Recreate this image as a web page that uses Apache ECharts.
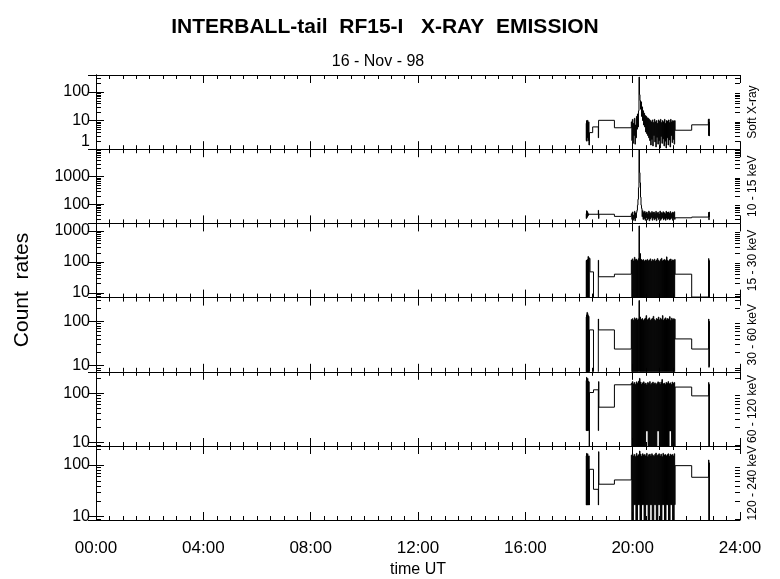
<!DOCTYPE html>
<html><head><meta charset="utf-8">
<script src="https://cdn.jsdelivr.net/npm/echarts@6/dist/echarts.min.js"></script>
<style>html,body{margin:0;padding:0;background:#fff}#c{width:780px;height:579px}</style>
</head><body><div id="c"></div>
<script>
// ---------- DATA ----------
const titleText = 'INTERBALL-tail  RF15-I   X-RAY  EMISSION';
const dateText = '16 - Nov - 98';
const panelNames = ['Soft X-ray', '10 - 15 keV', '15 - 30 keV', '30 - 60 keV', '60 - 120 keV', '120 - 240 keV'];
const xTickLabels = ['00:00', '04:00', '08:00', '12:00', '16:00', '20:00', '24:00'];
const yMin = [1, 20, 7, 7.2, 8.4, 8.6];
const yMax = [390, 10000, 1750, 345, 272, 233];
const yTickLabels = [[1, 10, 100], [100, 1000], [10, 100, 1000], [10, 100], [10, 100], [10, 100]];

// dense sampled interval (hours UT)
const blockStart = 19.95;
const blockStep = 0.019;

// Soft X-ray
const p1Pre = [[18.26,8],[18.27,2],[18.28,10],[18.29,1.9],[18.30,9],[18.31,2.5],[18.32,10.2],[18.33,3],[18.34,8],[18.35,2],[18.36,9],[18.37,1.4],[18.39,3.8],[18.51,6.0],[18.72,2.5],[18.73,10.2],[19.32,5.6]];
const p1Block = [9,2,11,1.6,8,3,12,1.5,7,2.5,
 14,5,17,6,22,330,80,50,25,45,
 14,30,10,22,7,18,6,15,4,14,
 3.5,12.5,3,12,2.5,11,2,10,1.4,9,
 2.2,10.5,1.3,8.5,3,11,1.8,9,1.2,10,
 2.6,8,1.5,10.5,2,9.5,1.1,11,2.8,8.5,
 1.6,10,2.3,9,1.3,11,1.9,8,1.1,10,
 2.5,9.5,1.4,10.5,2.1,8.5,1.2,11,3,9,
 1.7,10,2.2,9.5,1.5,10];
const p1Post = [[21.58,4.6],[22.20,7.1],[22.82,11],[22.83,3],[22.84,11.4],[22.85,2.9],[22.86,9]];

// 10 - 15 keV
const p2Pre = [[18.26,45],[18.27,30],[18.28,58],[18.29,32],[18.30,55],[18.31,35],[18.32,50],[18.33,38],[18.34,45],[18.35,40],[18.36,43],[18.72,60],[18.73,30],[18.74,43],[19.32,36]];
const p2Block = [45,28,52,26,40,30,55,25,48,32,
 50,60,92,150,400,9500,1400,600,180,92,
 70,35,58,28,50,30,55,26,48,32,
 52,27,45,30,56,25,50,29,47,33,
 54,26,49,31,52,27,46,30,55,25,
 48,33,51,28,44,30,56,26,50,29,
 47,32,53,27,49,30,45,26,55,31,
 50,28,52,30,47,27,54,29,46,32,
 51,26,49,30,53,28];
const p2Post = [[21.58,32],[22.20,34],[22.83,50],[22.84,27],[22.85,52],[22.86,34]];

// 15 - 30 keV
const p3Pre = [[18.26,110],[18.27,1],[18.28,115],[18.29,1],[18.30,105],[18.31,1],[18.32,120],[18.33,1],[18.34,150],[18.35,1],[18.36,140],[18.37,1],[18.38,130],[18.41,47.5],[18.54,1],[18.72,113],[18.73,33],[19.32,40]];
const p3Block = [115,1,125,1,108,1,140,1,118,1,
 122,1,110,1,130,1450,1,185,1,120,
 1,112,1,118,1,105,1,115,1,110,
 1,120,1,108,1,114,1,125,1,105,
 1,118,1,110,1,122,1,106,1,115,
 1,128,1,112,1,104,1,118,1,130,
 1,108,1,115,1,120,1,110,1,145,
 1,112,1,106,1,118,1,124,1,108,
 1,116,1,112,1,120];
const p3Post = [[21.58,40],[22.20,7.3],[22.83,128],[22.84,1],[22.85,110],[22.86,1]];

// 30 - 60 keV
const p4Pre = [[18.26,125],[18.27,1],[18.28,140],[18.29,1],[18.30,160],[18.31,1],[18.32,150],[18.33,1],[18.34,135],[18.35,1],[18.36,130],[18.37,1],[18.39,64],[18.54,1],[18.72,113],[18.73,64],[19.32,23.6]];
const p4Block = [110,1,115,1,106,1,120,1,112,1,
 118,1,108,1,114,296,1,125,1,110,
 1,116,1,105,1,112,1,118,1,135,
 1,108,1,114,1,120,1,106,1,112,
 1,117,1,130,1,110,1,104,1,116,
 1,112,1,125,1,108,1,118,1,110,
 1,135,1,106,1,114,1,120,1,108,
 1,116,1,112,1,128,1,105,1,118,
 1,110,1,115,1,112];
const p4Post = [[21.58,40],[22.20,23.6],[22.83,113],[22.84,9.1],[22.85,100],[22.86,9.5]];

// 60 - 120 keV
const p5Pre = [[18.26,180],[18.27,17.3],[18.28,210],[18.29,17.3],[18.30,190],[18.31,17.3],[18.32,200],[18.33,17.3],[18.34,175],[18.35,17.5],[18.36,170],[18.38,1],[18.39,103],[18.54,117],[18.72,17.3],[18.73,172],[18.74,51.8],[19.32,148]];
const p5Block = [160,1,172,1,155,1,165,1,150,1,
 170,1,158,1,175,1,200,1,168,1,
 152,1,162,1,170,1,155,1,160,17,
 148,17,165,1,158,1,172,1,150,1,
 160,1,168,1,155,1,162,1,150,1,
 158,17,170,17,165,1,152,1,168,1,
 190,1,155,1,160,1,150,1,165,1,
 158,1,172,1,155,17,162,17,150,1,
 168,1,158,1,165,1];
const p5Post = [[21.58,133],[22.20,88],[22.83,165],[22.84,1],[22.85,150],[22.86,1]];

// 120 - 240 keV
const p6Pre = [[18.26,150],[18.27,16.8],[18.28,168],[18.29,16.8],[18.30,160],[18.31,16.8],[18.32,165],[18.33,16.8],[18.34,145],[18.35,16.8],[18.36,150],[18.38,16.8],[18.39,82.5],[18.54,33.8],[18.72,16.8],[18.73,181],[18.74,42.4],[19.32,51.3]];
const p6Block = [155,1,165,1,150,17,160,17,145,1,
 168,1,150,17,158,17,186,1,162,1,
 148,17,165,17,155,1,160,1,150,17,
 168,17,145,1,158,1,162,17,150,17,
 165,1,155,1,148,17,160,17,170,1,
 152,1,158,17,165,17,150,1,162,1,
 145,17,168,17,155,1,160,1,150,17,
 158,17,165,1,148,1,162,17,155,17,
 160,1,150,1,165,17];
const p6Post = [[21.58,97],[22.20,57.8],[22.83,125],[22.84,1],[22.85,110],[22.86,1]];

const panelPre = [p1Pre, p2Pre, p3Pre, p4Pre, p5Pre, p6Pre];
const panelBlock = [p1Block, p2Block, p3Block, p4Block, p5Block, p6Block];
const panelPost = [p1Post, p2Post, p3Post, p4Post, p5Post, p6Post];

// ---------- LAYOUT ----------
const FONT = '"Liberation Sans", Arial, Helvetica, sans-serif';
const gridLeft = 96, gridRightPx = 740, gridTop = 75, panelH = 74.2;

const chart = echarts.init(document.getElementById('c'), null, {renderer: 'canvas'});

// histogram-style (step) records: [t, tNext, previous value, value]
function buildStepData(p) {
  const pts = panelPre[p].slice();
  panelBlock[p].forEach((v, i) => pts.push([blockStart + i * blockStep, v]));
  panelPost[p].forEach(q => pts.push(q));
  return pts.map((q, i) => [
    q[0],
    i < pts.length - 1 ? pts[i + 1][0] : q[0],
    i > 0 ? pts[i - 1][1] : q[1],
    q[1]
  ]);
}

function renderStep(params, api) {
  const t0 = api.value(0), t1 = api.value(1), v0 = api.value(2), v1 = api.value(3);
  const a = api.coord([t0, v0]), b = api.coord([t0, v1]), c = api.coord([t1, v1]);
  return {
    type: 'polyline', silent: true,
    shape: {points: [a, b, c]},
    style: {stroke: '#000', lineWidth: 1, fill: null}
  };
}

const grids = [], xAxes = [], yAxes = [], series = [];
for (let p = 0; p < 6; p++) {
  grids.push({left: gridLeft, right: 780 - gridRightPx, top: gridTop + p * panelH, height: panelH, containLabel: false});
  const xBase = {
    type: 'value', gridIndex: p, min: 0, max: 24, interval: 4,
    axisLine: {show: true, lineStyle: {color: '#000', width: 1}},
    axisTick: {show: true, inside: true, length: 8, lineStyle: {color: '#000'}},
    minorTick: {show: true, splitNumber: 8, length: 4, lineStyle: {color: '#000'}},
    splitLine: {show: false}, minorSplitLine: {show: false}
  };
  xAxes.push(Object.assign({}, xBase, {
    position: 'bottom',
    axisLabel: {show: p === 5, color: '#000', fontFamily: FONT, fontSize: 17, margin: 20,
      formatter: v => xTickLabels[Math.round(v / 4)]},
    name: p === 5 ? 'time UT' : '', nameLocation: 'middle', nameGap: 42,
    nameTextStyle: {color: '#000', fontFamily: FONT, fontSize: 16}
  }));
  xAxes.push(Object.assign({}, xBase, {position: 'top', axisLabel: {show: false}}));
  const yBase = {
    type: 'log', logBase: 10, gridIndex: p, min: yMin[p], max: yMax[p],
    axisLine: {show: true, lineStyle: {color: '#000', width: 1}},
    axisTick: {show: true, inside: true, length: 8, lineStyle: {color: '#000'}},
    splitLine: {show: false}
  };
  const ticks = yTickLabels[p];
  yAxes.push(Object.assign({}, yBase, {
    position: 'left',
    axisLabel: {show: true, color: '#000', fontFamily: FONT, fontSize: 16, margin: 6,
      showMinLabel: true, showMaxLabel: true,
      verticalAlignMinLabel: p === 0 ? 'bottom' : null,
      formatter: v => {
        const r = Math.round(v);
        return ticks.some(t => Math.abs(t - v) / t < 1e-4) ? String(r) : '';
      }}
  }));
  yAxes.push(Object.assign({}, yBase, {position: 'right', axisLabel: {show: false}}));
  series.push({
    type: 'custom', xAxisIndex: 2 * p, yAxisIndex: 2 * p,
    data: buildStepData(p), encode: {x: [0, 1], y: [2, 3]},
    renderItem: renderStep, clip: true, silent: true, animation: false
  });
}

const graphics = [
  {type: 'text', x: 385, y: 27, style: {text: titleText, fill: '#000', font: 'bold 21px ' + FONT, textAlign: 'center', textVerticalAlign: 'middle'}},
  {type: 'text', x: 378, y: 62, style: {text: dateText, fill: '#000', font: '16px ' + FONT, textAlign: 'center', textVerticalAlign: 'middle'}},
  {type: 'text', x: 22, y: 290, rotation: Math.PI / 2, style: {text: 'Count  rates', fill: '#000', font: '21px ' + FONT, textAlign: 'center', textVerticalAlign: 'middle'}}
];
panelNames.forEach((n, p) => {
  graphics.push({type: 'text', x: 753, y: gridTop + (p + 0.5) * panelH, rotation: Math.PI / 2,
    style: {text: n, fill: '#000', font: '12px ' + FONT, textAlign: 'center', textVerticalAlign: 'middle'}});
});

chart.setOption({
  animation: false,
  backgroundColor: '#fff',
  grid: grids, xAxis: xAxes, yAxis: yAxes, series: series,
  graphic: graphics
});

// log minor ticks (2..9 per decade) on both vertical axes
const minorG = [];
for (let p = 0; p < 6; p++) {
  const lo = Math.floor(Math.log10(yMin[p])), hi = Math.ceil(Math.log10(yMax[p]));
  for (let d = lo; d < hi; d++) {
    for (let m = 2; m <= 9; m++) {
      const v = m * Math.pow(10, d);
      if (v <= yMin[p] || v >= yMax[p]) continue;
      const py = Math.round(chart.convertToPixel({yAxisIndex: 2 * p}, v)) + 0.5;
      minorG.push({type: 'line', silent: true, shape: {x1: gridLeft, y1: py, x2: gridLeft + 5, y2: py}, style: {stroke: '#000', lineWidth: 1}});
      minorG.push({type: 'line', silent: true, shape: {x1: gridRightPx - 5, y1: py, x2: gridRightPx, y2: py}, style: {stroke: '#000', lineWidth: 1}});
    }
  }
}
chart.setOption({graphic: graphics.concat(minorG)});
</script>
</body></html>
